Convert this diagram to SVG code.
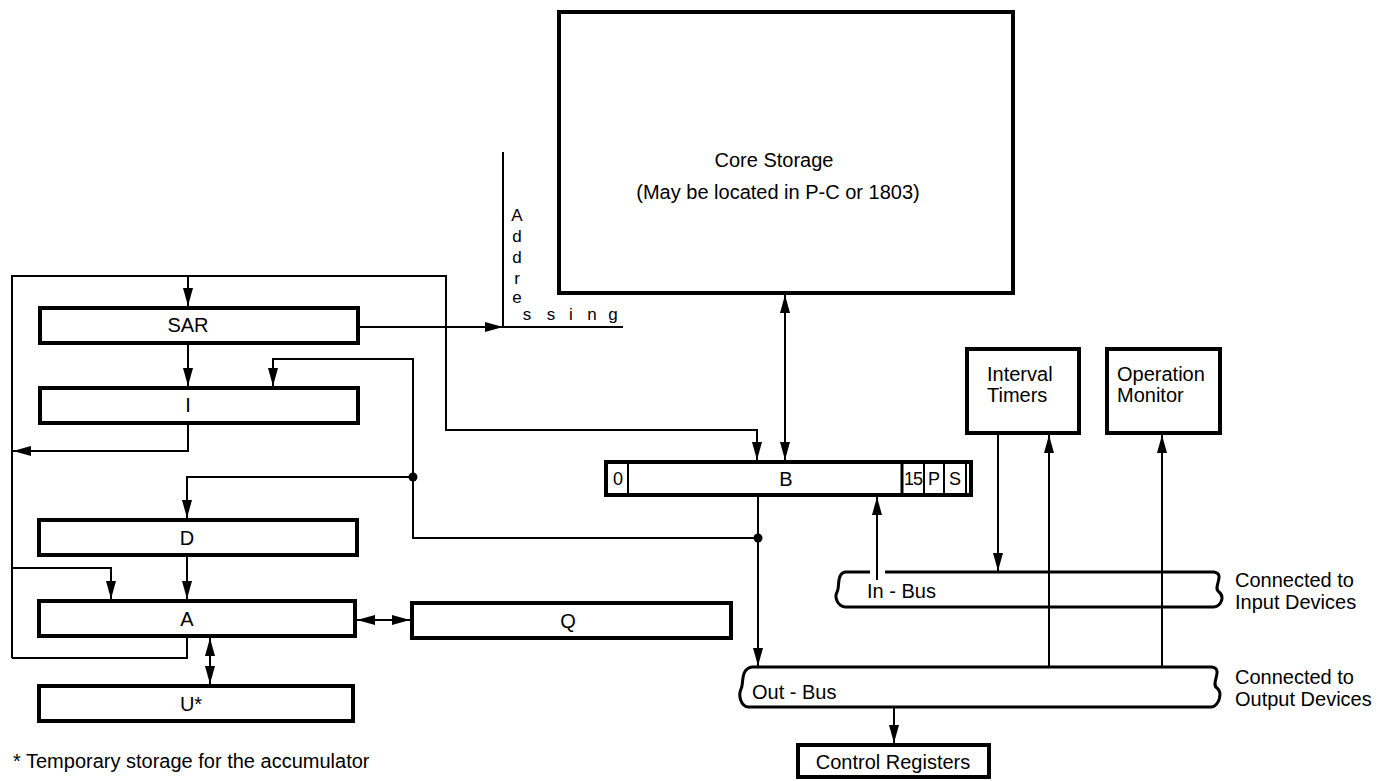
<svg xmlns="http://www.w3.org/2000/svg" width="1393" height="781" viewBox="0 0 1393 781">
<defs>
<marker id="ah" markerUnits="userSpaceOnUse" markerWidth="19" markerHeight="12" refX="18" refY="6" orient="auto-start-reverse" viewBox="0 0 19 12"><path d="M0,1 L18,6 L0,11 z" fill="#000"/></marker>
</defs>
<style>
.box{fill:#fff;stroke:#000;stroke-width:4}
.ln{fill:none;stroke:#000;stroke-width:2}
.ar{fill:none;stroke:#000;stroke-width:2;marker-end:url(#ah)}
.ar2{fill:none;stroke:#000;stroke-width:2;marker-end:url(#ah);marker-start:url(#ah)}
.bus{fill:none;stroke:#000;stroke-width:3}
.sep{stroke:#000;stroke-width:2}
text{font-family:"Liberation Sans",Arial,sans-serif;font-size:20px;fill:#000}
.c{text-anchor:middle}
.sm{font-size:17px}
.cell{font-size:18px;text-anchor:middle}
</style>
<rect width="1393" height="781" fill="#fff"/>

<g id="connectors">
<path class="ar" d="M12,658 V276 H446 V430 H757 V460"/>
<path class="ar" d="M188,276 V306"/>
<path class="ar" d="M360,327 H503"/>
<path class="ar" d="M188,345 V386"/>
<path class="ar" d="M188,425 V451 H13"/>
<path class="ar" d="M758,538 H413 V359 H273 V386"/>
<path class="ar" d="M413,477 H187 V518"/>
<path class="ar" d="M187,557 V599"/>
<path class="ar" d="M12,568 H111 V599"/>
<path class="ln" d="M187,638 V658 H12"/>
<path class="ar2" d="M357,620 H410"/>
<path class="ar2" d="M210,638 V684"/>
<path class="ar2" d="M785,295 V460"/>
<path class="ar" d="M758,497 V666"/>
<path class="ar" d="M877,580 V497"/>
<path class="ar" d="M998,435 V571"/>
<path class="ar" d="M1049,667 V435"/>
<path class="ar" d="M1162,667 V435"/>
<path class="ar" d="M894,708 V743"/>
<circle cx="413" cy="477" r="4.5" fill="#000"/>
<circle cx="758" cy="538" r="4.5" fill="#000"/>
</g>

<g id="addressing">
<path class="ln" d="M503,152 V327 H623"/>
<text class="sm c" x="517" y="221">A</text>
<text class="sm c" x="517" y="242">d</text>
<text class="sm c" x="517" y="263">d</text>
<text class="sm c" x="517" y="284">r</text>
<text class="sm c" x="517" y="303">e</text>
<text class="sm c" x="527" y="320">s</text>
<text class="sm c" x="551" y="320">s</text>
<text class="sm c" x="571" y="320">i</text>
<text class="sm c" x="592" y="320">n</text>
<text class="sm c" x="613" y="320">g</text>
</g>

<g id="core">
<rect class="box" x="559" y="12" width="454" height="281"/>
<text class="c" x="774" y="167">Core Storage</text>
<text class="c" x="778" y="199">(May be located in P-C or 1803)</text>
</g>

<g id="sar">
<rect class="box" x="40" y="308" width="318" height="35"/>
<text class="c" x="188" y="332">SAR</text>
</g>
<g id="reg-i">
<rect class="box" x="40" y="388" width="318" height="35"/>
<text class="c" x="188" y="412">I</text>
</g>
<g id="reg-d">
<rect class="box" x="39" y="520" width="318" height="35"/>
<text class="c" x="187" y="545">D</text>
</g>
<g id="reg-a">
<rect class="box" x="39" y="601" width="316" height="35"/>
<text class="c" x="187" y="626">A</text>
</g>
<g id="reg-q">
<rect class="box" x="412" y="603" width="319" height="35"/>
<text class="c" x="568" y="628">Q</text>
</g>
<g id="reg-u">
<rect class="box" x="39" y="686" width="314" height="35"/>
<text class="c" x="191" y="711">U*</text>
</g>
<g id="footnote">
<text x="13" y="768">* Temporary storage for the accumulator</text>
</g>

<g id="reg-b">
<rect class="box" x="606" y="462" width="365" height="33"/>
<line class="sep" x1="628" y1="462" x2="628" y2="495"/>
<line class="sep" x1="902" y1="462" x2="902" y2="495" style="stroke-width:3"/>
<line class="sep" x1="924" y1="462" x2="924" y2="495"/>
<line class="sep" x1="944" y1="462" x2="944" y2="495"/>
<line class="sep" x1="966" y1="462" x2="966" y2="495"/>
<text class="cell" x="618" y="485">0</text>
<text class="c" x="786" y="486">B</text>
<text class="cell" x="913" y="485" style="letter-spacing:-1px">15</text>
<text class="cell" x="934" y="485">P</text>
<text class="cell" x="955" y="485">S</text>
</g>

<g id="interval-timers">
<rect class="box" x="967" y="349" width="112" height="84"/>
<text x="987" y="381">Interval</text>
<text x="987" y="402">Timers</text>
</g>
<g id="operation-monitor">
<rect class="box" x="1107" y="349" width="113" height="84"/>
<text x="1117" y="381">Operation</text>
<text x="1117" y="402">Monitor</text>
</g>

<g id="in-bus">
<path class="bus" d="M870,572 H845 C836,574 840,588 837,592 C834,598 838,606 845,607 H1214"/>
<path class="bus" d="M885,572 H1214 C1226,574 1212,588 1219,592 C1225,597 1221,606 1214,607"/>
<text x="867" y="598">In - Bus</text>
<text x="1235" y="587">Connected to</text>
<text x="1235" y="609">Input Devices</text>
</g>

<g id="out-bus">
<path class="bus" d="M1212,667 H752 C740,669 744,684 741,689 C738,696 741,706 748,707 H1212"/>
<path class="bus" d="M1212,667 C1224,669 1210,684 1217,688 C1223,693 1219,705 1212,707"/>
<text x="752" y="699">Out - Bus</text>
<text x="1235" y="684">Connected to</text>
<text x="1235" y="706">Output Devices</text>
</g>

<g id="control-registers">
<rect class="box" x="798" y="745" width="191" height="32"/>
<text class="c" x="893" y="769">Control Registers</text>
</g>
</svg>
